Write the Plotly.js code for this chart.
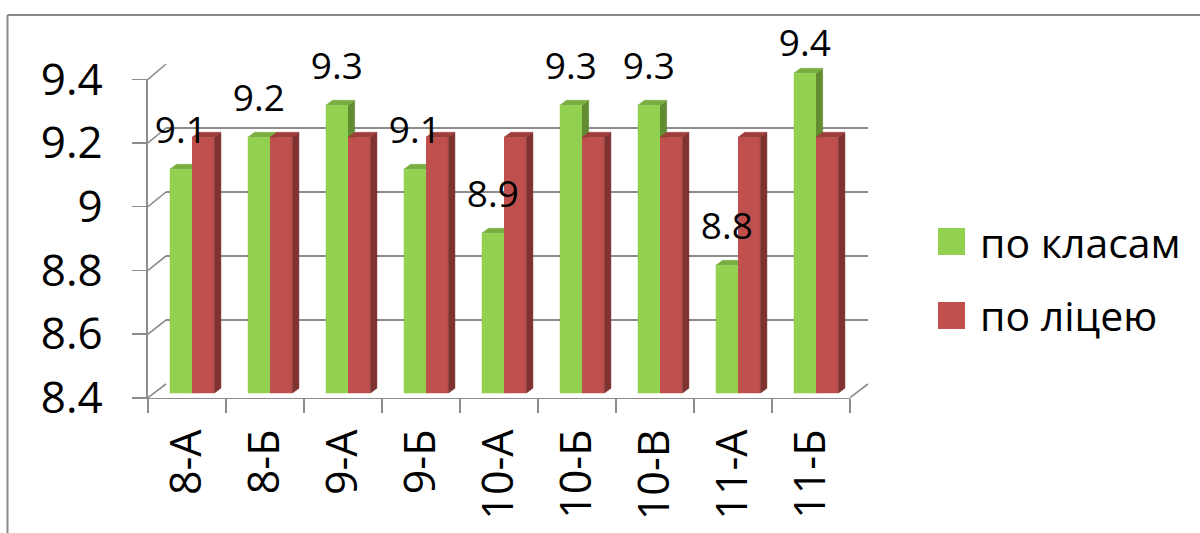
<!DOCTYPE html>
<html><head><meta charset="utf-8">
<script src="https://cdn.plot.ly/plotly-3.0.1.min.js"></script>
<style>html,body{margin:0;padding:0;background:#fff}#chart{width:1200px;height:533px}</style>
</head><body><div id="chart"></div>
<script>
const categories = ['8-А','8-Б','9-А','9-Б','10-А','10-Б','10-В','11-А','11-Б'];
const byClass = [9.1, 9.2, 9.3, 9.1, 8.9, 9.3, 9.3, 8.8, 9.4];
const byLyceum = [9.2, 9.2, 9.2, 9.2, 9.2, 9.2, 9.2, 9.2, 9.2];
const seriesNames = ['по класам', 'по ліцею'];
const yTicks = [8.4, 8.6, 8.8, 9, 9.2, 9.4];

const W = 1200, H = 533;
const px = x => x / W, py = y => (H - y) / H;
const FONT = '"Open Sans", "Noto Sans", sans-serif';
const GRID = '#8c8c8c';
const GREEN = {front: '#92D050', side: '#618c31', top: '#7aae40'};
const RED = {front: '#C0504D', side: '#7f3230', top: '#9e3e3b'};

// geometry (pixels)
const FRONT = {l: 148, r: 850, bot: 397.7, top: 79.3};
const BACK = {l: 166, r: 868, bot: 384, top: 64};
const BARS = {l: 153, r: 855, bot: 393.3, top: 41.3}; // y range 8.4..9.5
const yMin = 8.4, yMax = 9.4, barMax = 9.5;

const idx = categories.map((_, i) => i);
const BW = 0.285, DX = 6.7 / 78, DY = 5 / 320;
const LABEL_OFF = 36 / 320, LABEL_MAX = 9.482;

function faces(vals, left, col, xa, ya) {
  const sx = [], sy = [], tx = [], ty = [];
  vals.forEach((v, i) => {
    const l = i + left, r = l + BW;
    sx.push(r, r, r + DX, r + DX, r, null); sy.push(yMin, v, v + DY, yMin + DY, yMin, null);
    tx.push(l, r, r + DX, l + DX, l, null); ty.push(v, v, v + DY, v + DY, v, null);
  });
  const base = {type: 'scatter', mode: 'lines', fill: 'toself', xaxis: xa, yaxis: ya,
    hoverinfo: 'skip', showlegend: false};
  return [
    Object.assign({}, base, {x: sx, y: sy, fillcolor: col.side, line: {color: col.side, width: 0.5}}),
    Object.assign({}, base, {x: tx, y: ty, fillcolor: col.top, line: {color: col.top, width: 0.5}})
  ];
}

const traces = [];
// back wall (gridlines only)
traces.push({type: 'scatter', x: [], y: [], xaxis: 'x', yaxis: 'y', showlegend: false, hoverinfo: 'skip'});
// green side/top faces (lower layer)
faces(byClass, -BW, GREEN, 'x2', 'y2').forEach(t => traces.push(t));
// front faces
traces.push({type: 'bar', name: seriesNames[0], x: idx, y: byClass, offset: -BW, width: BW,
  marker: {color: GREEN.front, line: {width: 0}}, xaxis: 'x3', yaxis: 'y3', showlegend: false, hoverinfo: 'skip'});
traces.push({type: 'bar', name: seriesNames[1], x: idx, y: byLyceum, offset: 0, width: BW,
  marker: {color: RED.front, line: {width: 0}}, xaxis: 'x3', yaxis: 'y3', showlegend: false, hoverinfo: 'skip'});
faces(byLyceum, 0, RED, 'x3', 'y3').forEach(t => traces.push(t));
// data labels (green series)
traces.push({type: 'scatter', mode: 'text', x: idx.map(i => i - BW / 2),
  y: byClass.map(v => Math.min(v + LABEL_OFF, LABEL_MAX)),
  text: byClass.map(v => String(v)), textposition: 'middle center',
  textfont: {family: FONT, size: 37, color: '#000'}, cliponaxis: false,
  xaxis: 'x3', yaxis: 'y3', showlegend: false, hoverinfo: 'skip'});
// front axes (ticks, labels)
traces.push({type: 'scatter', mode: 'markers', x: categories, y: categories.map(() => null),
  xaxis: 'x4', yaxis: 'y4', showlegend: false, hoverinfo: 'skip'});

const hidden = {visible: false, fixedrange: true};
const layout = {
  width: W, height: H, margin: {l: 0, r: 0, t: 0, b: 0},
  paper_bgcolor: '#fff', plot_bgcolor: 'rgba(0,0,0,0)',
  barmode: 'overlay', showlegend: false, font: {family: FONT, color: '#000'},
  xaxis: Object.assign({domain: [px(BACK.l), px(BACK.r)], range: [-0.5, 8.5], anchor: 'y'}, hidden),
  yaxis: {domain: [py(BACK.bot), py(BACK.top)], range: [yMin, yMax], anchor: 'x',
    tickvals: yTicks, showticklabels: false, ticks: '', showgrid: true, gridcolor: GRID, gridwidth: 1.6,
    zeroline: false, showline: false, fixedrange: true},
  xaxis2: Object.assign({domain: [px(BARS.l), px(BARS.r)], range: [-0.5, 8.5], anchor: 'y2'}, hidden),
  yaxis2: Object.assign({domain: [py(BARS.bot), py(BARS.top)], range: [yMin, barMax], anchor: 'x2'}, hidden),
  xaxis3: Object.assign({domain: [px(BARS.l), px(BARS.r)], range: [-0.5, 8.5], anchor: 'y3'}, hidden),
  yaxis3: Object.assign({domain: [py(BARS.bot), py(BARS.top)], range: [yMin, barMax], anchor: 'x3'}, hidden),
  xaxis4: {domain: [px(FRONT.l), px(FRONT.r)], anchor: 'y4', type: 'category', categoryarray: categories,
    range: [-0.5, 8.5], tickson: 'boundaries', ticks: 'outside', ticklen: 14, tickwidth: 1.6, tickcolor: GRID,
    showline: true, linecolor: GRID, linewidth: 1.6, showgrid: false, zeroline: false,
    tickangle: -90, tickfont: {family: FONT, size: 43, color: '#000'}, ticklabelstandoff: 13, fixedrange: true},
  yaxis4: {domain: [py(FRONT.bot), py(FRONT.top)], anchor: 'x4', range: [yMin, yMax], tickvals: yTicks,
    ticks: 'outside', ticklen: 14, tickwidth: 1.6, tickcolor: GRID, showline: true, linecolor: GRID,
    linewidth: 1.6, showgrid: false, zeroline: false, tickfont: {family: FONT, size: 44, color: '#000'},
    ticklabelstandoff: 21, fixedrange: true},
  shapes: [],
  annotations: []
};

// side wall / floor diagonals
const yF = v => FRONT.bot - (v - yMin) / (yMax - yMin) * (FRONT.bot - FRONT.top);
const yB = v => BACK.bot - (v - yMin) / (yMax - yMin) * (BACK.bot - BACK.top);
yTicks.forEach(v => layout.shapes.push({type: 'line', xref: 'paper', yref: 'paper', layer: 'below',
  x0: px(FRONT.l), y0: py(yF(v)), x1: px(BACK.l), y1: py(yB(v)), line: {color: GRID, width: 1.6}}));
layout.shapes.push({type: 'line', xref: 'paper', yref: 'paper', layer: 'below',
  x0: px(FRONT.r), y0: py(yF(yMin)), x1: px(BACK.r), y1: py(yB(yMin)), line: {color: GRID, width: 1.6}});
// chart border
layout.shapes.push({type: 'line', xref: 'paper', yref: 'paper', x0: px(7.5), y0: 0, x1: px(7.5), y1: py(15),
  line: {color: '#898989', width: 2}});
layout.shapes.push({type: 'line', xref: 'paper', yref: 'paper', x0: px(7.5), y0: py(15), x1: 1, y1: py(15),
  line: {color: '#898989', width: 2}});

// legend
const legendCols = [GREEN.front, RED.front];
const legendY = [241.5, 315.5];
seriesNames.forEach((n, k) => {
  layout.shapes.push({type: 'rect', xref: 'paper', yref: 'paper', x0: px(938), x1: px(965),
    y0: py(legendY[k] + 13.5), y1: py(legendY[k] - 13.5), fillcolor: legendCols[k], line: {width: 0}});
  layout.annotations.push({xref: 'paper', yref: 'paper', x: px(978), y: py(legendY[k]), xanchor: 'left',
    yanchor: 'middle', text: n, showarrow: false, font: {family: FONT, size: 41, color: '#000'}});
});

Plotly.newPlot('chart', traces, layout, {staticPlot: true, displayModeBar: false});
</script></body></html>
